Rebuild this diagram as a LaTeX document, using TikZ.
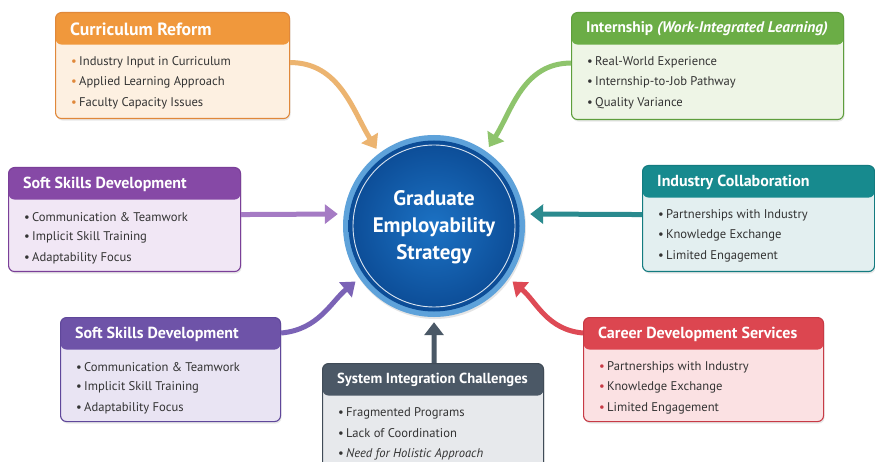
\documentclass[tikz,border=0pt]{standalone}
\usepackage{fontspec}
\setmainfont{PT Sans}
\usetikzlibrary{arrows.meta,shadows,calc}

% panel palettes: head / body / border / arrow
\definecolor{orHead}{HTML}{F0983C}\definecolor{orBody}{HTML}{FDF0E1}\definecolor{orLine}{HTML}{E0883A}\definecolor{orArr}{HTML}{ECB470}
\definecolor{grHead}{HTML}{6BAD46}\definecolor{grBody}{HTML}{EEF5E6}\definecolor{grLine}{HTML}{5E9E3C}\definecolor{grArr}{HTML}{8EC46C}
\definecolor{paHead}{HTML}{8649A6}\definecolor{paBody}{HTML}{F1E7F5}\definecolor{paLine}{HTML}{7A3F98}\definecolor{paArr}{HTML}{A57BC4}
\definecolor{tlHead}{HTML}{178A8E}\definecolor{tlBody}{HTML}{E3EFF0}\definecolor{tlLine}{HTML}{137B80}\definecolor{tlArr}{HTML}{2A8A8E}
\definecolor{pbHead}{HTML}{6E53A8}\definecolor{pbBody}{HTML}{E9E4F3}\definecolor{pbLine}{HTML}{5F479A}\definecolor{pbArr}{HTML}{7B63B6}
\definecolor{rdHead}{HTML}{DC4650}\definecolor{rdBody}{HTML}{FBE1E3}\definecolor{rdLine}{HTML}{C73A45}\definecolor{rdArr}{HTML}{DE4A55}
\definecolor{slHead}{HTML}{4B5866}\definecolor{slBody}{HTML}{E7E9EC}\definecolor{slLine}{HTML}{404B57}\definecolor{slArr}{HTML}{4A5866}
\definecolor{txt}{HTML}{333333}
\definecolor{ringBlue}{HTML}{5EA2DA}
\definecolor{diskIn}{HTML}{1C72C4}
\definecolor{diskOut}{HTML}{0C4C96}

\tikzset{
  panelbox/.style={rounded corners=6pt, line width=1.1pt, anchor=north west, inner sep=0pt,
    drop shadow={opacity=0.18, shadow xshift=1pt, shadow yshift=-2pt}},
  paneltitle/.style={anchor=west, inner sep=0pt, text=white, font=\fontsize{16}{18}\selectfont\bfseries},
  paneltext/.style={anchor=west, inner sep=0pt, text=txt, font=\fontsize{12.6}{14}\selectfont},
  feeder/.style={line width=5pt, -{Triangle[length=13pt,width=19pt]}, shorten >=5pt},
}

% #1 name, #2 left, #3 top, #4 width, #5 height, #6 palette, #7 title, #8 items, #9 bullet colour
\newcommand\infopanel[9]{%
  \node[panelbox, fill=#6Body, draw=#6Line, minimum width=#4pt, minimum height=#5pt,
    path picture={\fill[#6Head] (path picture bounding box.north west) rectangle
      ([yshift=-32pt]path picture bounding box.north east);}] (#1) at (#2,#3) {};
  \node[paneltitle] (#1-t) at ([xshift=15pt,yshift=-17pt]#1.north west) {#7};
  \foreach \it [count=\k] in {#8} {
    \node[paneltext] (#1-\k) at ([xshift=16pt,yshift={-50pt-20.5pt*(\k-1)}]#1.north west)
      {\makebox[8pt][l]{\textcolor{#9}{•}}\it};
  }%
}

\begin{document}
\begin{tikzpicture}[x=1pt,y=-1pt]
\useasboundingbox[fill=white] (0,0) rectangle (875,462);

% central hub
\node[circle, minimum size=182pt, inner sep=0pt, fill=ringBlue,
  drop shadow={opacity=0.2, shadow xshift=1pt, shadow yshift=-2pt}] (circ) at (434,226) {};
\shade[inner color=diskIn, outer color=diskOut] (circ.center) circle[radius=85.5pt];
\draw[white, line width=0.9pt, opacity=0.85] (circ.center) circle[radius=81pt];
\node[align=center, text=white, font=\fontsize{21}{27}\selectfont\bfseries] (circ-t) at ([yshift=-1pt]circ.center)
  {Graduate\\Employability\\Strategy};

% panels
\infopanel{cur}{55}{12}{234}{106}{or}{\fontsize{17.7}{20}\selectfont Curriculum Reform}
  {Industry Input in Curriculum, Applied Learning Approach, Faculty Capacity Issues}{orLine}
\infopanel{int}{571}{12}{272}{107}{gr}{\fontsize{15.4}{18}\selectfont Internship \textit{(Work-Integrated Learning)}}
  {Real-World Experience, Internship-to-Job Pathway, Quality Variance}{txt}
\infopanel{ssa}{8}{167}{232}{104}{pa}{Soft Skills Development}
  {Communication \& Teamwork, Implicit Skill Training, Adaptability Focus}{txt}
\infopanel{ind}{642}{165}{232}{106}{tl}{Industry Collaboration}
  {Partnerships with Industry, Knowledge Exchange, Limited Engagement}{txt}
\infopanel{ssb}{60}{317}{220}{104}{pb}{Soft Skills Development}
  {Communication \& Teamwork, Implicit Skill Training, Adaptability Focus}{txt}
\infopanel{car}{583}{317}{240}{104}{rd}{Career Development Services}
  {Partnerships with Industry, Knowledge Exchange, Limited Engagement}{rdLine}
\infopanel{sys}{322}{363}{221}{115}{sl}{\fontsize{14.6}{17}\selectfont System Integration Challenges}
  {Fragmented Programs, Lack of Coordination, \textit{Need for Holistic Approach}}{txt}

% feeders into the hub
\draw[feeder, orArr] ([yshift=3pt]cur.east) to[out=0, in=122] (circ.127);
\draw[feeder, grArr] ([yshift=3pt]int.west) to[out=180, in=58] (circ.55);
\draw[feeder, paArr] ([yshift=5pt]ssa.east) -- ([yshift=12pt]circ.west);
\draw[feeder, tlArr] ([yshift=4pt]ind.west) -- ([yshift=12pt]circ.east);
\draw[feeder, pbArr] ([yshift=-16pt]ssb.north east) to[out=5, in=220] (circ.215);
\draw[feeder, rdArr] ([yshift=-16pt]car.north west) to[out=175, in=-40] (circ.-35);
\draw[feeder, slArr] ([xshift=1pt]sys.north) -- (circ.270);
\end{tikzpicture}
\end{document}
